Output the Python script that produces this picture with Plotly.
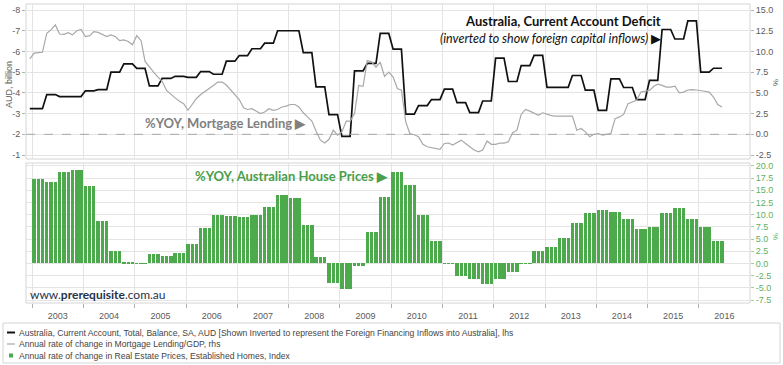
import pandas as pd
import plotly.graph_objects as go

# ---------------- data ----------------
# Current account balance (AUD bn, shown inverted), quarterly, 2002Q4 .. 2016Q2
ca_quarterly = [
    -3.24,
    -3.24, -3.92, -3.82, -3.82,
    -4.10, -4.16, -5.00, -5.40,
    -5.18, -4.34, -4.70, -4.80,
    -4.75, -5.03, -4.90, -5.53,
    -5.80, -6.13, -6.40, -7.00,
    -7.00, -5.94, -4.29, -2.95,
    -1.90, -5.06, -5.42, -6.87,
    -6.11, -2.98, -3.39, -3.68,
    -4.18, -3.53, -3.05, -3.61,
    -5.68, -4.55, -5.32, -5.81,
    -4.27, -4.27, -4.84, -4.13,
    -3.16, -4.68, -4.26, -3.68,
    -4.60, -7.06, -6.60, -7.48,
    -5.00, -5.19,
]
ca_start_quarter = "2002-10-01"

# Mortgage lending / GDP, annual % change, monthly Dec 2002 .. Jun 2016
mortgage_yoy = [
    9.1,
    9.8, 9.85, 9.9, 12.2, 12.6, 13.2, 12.1, 12.06, 12.26, 12.0, 12.5, 12.66,
    11.8, 11.9, 12.4, 12.3, 12.1, 11.8, 12.0, 11.8, 11.3, 11.4, 11.2, 10.8,
    11.9, 11.3, 8.8, 8.1, 7.5, 6.9, 6.4, 5.3, 4.8, 4.4, 4.0, 3.7,
    2.9, 3.6, 4.3, 4.8, 5.2, 5.5, 5.9, 6.3, 6.3, 5.95, 5.4, 4.8,
    4.2, 3.2, 3.0, 3.1, 2.8, 2.5, 2.7, 3.1, 2.9, 3.0, 3.3, 3.4,
    3.6, 3.6, 3.3, 2.6, 2.1, 1.6, 0.4, -0.7, -1.05, -0.6, 0.5, -0.1,
    0.3, 1.6, 1.6, 2.5, 5.9, 5.8, 8.9, 8.75, 8.1, 8.7, 7.0, 7.5,
    6.9, 5.5, 5.35, 1.5, 0.05, -0.05, -0.3, -1.2, -1.5, -1.6, -1.7, -1.8,
    -1.1, -1.05, -1.3, -1.0, -0.7, -1.1, -1.5, -1.9, -2.1, -1.9, -0.8, -1.2,
    -1.2, -1.05, -1.05, -0.9, 0.2, 0.5, 2.4, 3.0, 2.8, 2.6, 2.3, 2.6,
    2.4, 2.25, 2.2, 2.2, 2.2, 2.2, 2.2, 0.5, 0.7, 0.3, -0.3, 0.0,
    0.08, -0.1, 0.0, 0.1, 1.9, 2.1, 2.4, 3.7, 3.9, 4.1, 5.1, 5.24,
    5.3, 5.8, 6.05, 5.9, 5.7, 5.7, 5.8, 5.0, 5.1, 5.35, 5.4, 5.35,
    5.3, 5.2, 5.1, 4.5, 3.6, 3.3,
]
mortgage_start_month = "2002-12-01"

# Established house prices, annual % change, quarterly 2003Q1 .. 2016Q2
house_yoy_quarterly = [
    17.4, 16.8, 18.7, 19.2,
    15.8, 8.7, 2.6, 0.3,
    0.1, 1.9, 1.6, 2.2,
    3.9, 7.3, 10.0, 9.7,
    9.6, 10.0, 11.5, 14.0,
    13.5, 7.9, 1.4, -4.0,
    -5.3, -0.5, 6.4, 13.7,
    18.7, 16.1, 9.9, 4.7,
    -0.1, -2.5, -3.2, -4.3,
    -3.2, -1.8, -0.1, 2.6,
    3.4, 5.3, 8.2, 10.4,
    10.9, 10.6, 9.2, 7.0,
    7.5, 10.4, 11.3, 9.2,
    7.4, 4.7,
]
house_start_quarter = "2003-01-01"

left_ticks = [-8, -7, -6, -5, -4, -3, -2, -1]
right_top_ticks = [-2.5, 0.0, 2.5, 5.0, 7.5, 10.0, 12.5, 15.0]
right_bottom_ticks = [-7.5, -5.0, -2.5, 0.0, 2.5, 5.0, 7.5, 10.0, 12.5, 15.0, 17.5, 20.0]

legend_labels = [
    "Australia, Current Account, Total, Balance, SA, AUD [Shown Inverted to represent the Foreign Financing Inflows into Australia], lhs",
    "Annual rate of change in Mortgage Lending/GDP, rhs",
    "Annual rate of change in Real Estate Prices, Established Homes, Index",
]

# ---------------- build monthly series (mid-month) ----------------
def monthly_from_quarterly(start, values):
    qs = pd.date_range(start, periods=len(values), freq="QS")
    dates, vals = [], []
    for q, v in zip(qs, values):
        for m in range(3):
            d = (q + pd.DateOffset(months=m)) + pd.Timedelta(days=14)
            dates.append(d)
            vals.append(v)
    return dates, vals

ca_dates, ca_vals = monthly_from_quarterly(ca_start_quarter, ca_quarterly)
ca_pairs = [(d, v) for d, v in zip(ca_dates, ca_vals) if d >= pd.Timestamp("2002-12-01")]
ca_dates = [p[0] for p in ca_pairs]
ca_vals = [p[1] for p in ca_pairs]

mort_dates = pd.date_range(mortgage_start_month, periods=len(mortgage_yoy), freq="MS") + pd.Timedelta(days=14)

house_dates, house_vals = monthly_from_quarterly(house_start_quarter, house_yoy_quarterly)

# ---------------- styling ----------------
W, H = 783, 365
ML, MR, MT, MB = 26, 33, 4, 62
PW = W - ML - MR
PH = H - MT - MB


def px(x):
    return (x - ML) / PW


def py(y):
    return (H - MB - y) / PH


GRID = "#e4e4e4"
TICKC = "#5a5a5a"
GREEN = "#4caa4c"
TICKFONT = dict(family="Liberation Sans, Arial, sans-serif", size=9, color=TICKC)

top_dom = [py(159), 1.0]
bot_dom = [0.0, py(163)]

fig = go.Figure()

fig.add_trace(go.Bar(
    x=house_dates, y=house_vals, xaxis="x", yaxis="y3",
    marker=dict(color=GREEN, line=dict(width=0)),
    width=24 * 86400000, name=legend_labels[2], showlegend=False,
))
fig.add_trace(go.Scatter(
    x=mort_dates, y=mortgage_yoy, xaxis="x2", yaxis="y2", mode="lines",
    line=dict(color="#a8a8a8", width=1.2), name=legend_labels[1], showlegend=False,
))
fig.add_trace(go.Scatter(
    x=ca_dates, y=ca_vals, xaxis="x2", yaxis="y", mode="lines",
    line=dict(color="#111111", width=1.7), name=legend_labels[0], showlegend=False,
))

XR = ["2002-11-18", "2016-12-31"]

fig.update_layout(
    width=W, height=H,
    margin=dict(l=ML, r=MR, t=MT, b=MB, autoexpand=False),
    paper_bgcolor="white", plot_bgcolor="white",
    bargap=0,
    xaxis=dict(
        domain=[0, 1], anchor="y3", type="date", range=XR, automargin=False,
        tick0="2003-01-01", dtick="M12", tickformat="%Y", ticklabelmode="period",
        ticks="outside", ticklen=4, tickcolor="#b0b0b0",
        showgrid=True, gridcolor=GRID, gridwidth=1, zeroline=False, showline=False,
        tickfont=TICKFONT,
    ),
    xaxis2=dict(
        domain=[0, 1], anchor="y", type="date", matches="x", range=XR, automargin=False,
        tick0="2003-01-01", dtick="M12", showticklabels=False, ticks="",
        showgrid=True, gridcolor=GRID, zeroline=False, showline=False,
    ),
    yaxis=dict(
        domain=top_dom, anchor="x2", range=[-0.81, -8.29], automargin=False,
        tickvals=left_ticks, ticktext=[str(v) for v in left_ticks],
        ticks="outside", ticklen=3, tickcolor="#b0b0b0",
        showgrid=True, gridcolor=GRID, zeroline=False, showline=False,
        tickfont=TICKFONT,
    ),
    yaxis2=dict(
        overlaying="y", side="right", anchor="x2", range=[-2.975, 15.725], automargin=False,
        tickvals=right_top_ticks, ticktext=[f"{v:.1f}" for v in right_top_ticks],
        ticks="outside", ticklen=3, tickcolor="#b0b0b0",
        showgrid=False, zeroline=False, showline=False,
        tickfont=TICKFONT,
    ),
    yaxis3=dict(
        domain=bot_dom, anchor="x", side="right", range=[-8.1, 20.6], automargin=False,
        tickvals=right_bottom_ticks, ticktext=[f"{v:.1f}" for v in right_bottom_ticks],
        ticks="outside", ticklen=3, tickcolor="#9ccf9c",
        showgrid=True, gridcolor=GRID, zeroline=False, showline=False,
        tickfont=dict(family="Liberation Sans, Arial, sans-serif", size=9, color="#5fb05f"),
    ),
)

shapes = []
for (y0, y1) in [(top_dom[0], top_dom[1]), (bot_dom[0], bot_dom[1])]:
    shapes.append(dict(type="rect", xref="paper", yref="paper", x0=0, x1=1, y0=y0, y1=y1,
                       line=dict(color="#d4d4d4", width=1), layer="below"))
shapes.append(dict(type="line", xref="paper", yref="y2", x0=0, x1=1, y0=0, y1=0,
                   line=dict(color="#a8a8a8", width=1, dash="dash")))
shapes.append(dict(type="rect", xref="paper", yref="paper", x0=px(3), x1=px(780), y0=py(363), y1=py(323),
                   line=dict(color="#d4d4d4", width=1)))
shapes.append(dict(type="line", xref="paper", yref="paper", x0=px(7), x1=px(15), y0=py(332.5), y1=py(332.5),
                   line=dict(color="#111111", width=2)))
shapes.append(dict(type="line", xref="paper", yref="paper", x0=px(7), x1=px(15), y0=py(344), y1=py(344),
                   line=dict(color="#a8a8a8", width=1.2)))
shapes.append(dict(type="rect", xref="paper", yref="paper", x0=px(9), x1=px(13), y0=py(357.5), y1=py(353.5),
                   line=dict(width=0), fillcolor=GREEN))
fig.update_layout(shapes=shapes)

LEGFONT = dict(family="Liberation Sans, Arial, sans-serif", size=8.6, color="#444444")
CAL = "Lato, Open Sans, sans-serif"
annotations = [
    dict(text="<b>Australia, Current Account Deficit</b>", x=px(663), y=py(21), xanchor="right", yanchor="middle",
         font=dict(family=CAL, size=13, color="#111111")),
    dict(text="<i>(inverted to show foreign capital inflows) </i>▶", x=px(663), y=py(38), xanchor="right", yanchor="middle",
         font=dict(family=CAL, size=12.5, color="#111111")),
    dict(text="<b>%YOY, Mortgage Lending ▶</b>", x=px(143), y=py(123), xanchor="left", yanchor="middle",
         font=dict(family=CAL, size=13, color="#808080")),
    dict(text="<b>%YOY, Australian House Prices ▶</b>", x=px(193), y=py(176), xanchor="left", yanchor="middle",
         font=dict(family=CAL, size=13, color="#4a9e4a")),
    dict(text="www.<b>prerequisite</b>.com.au", x=px(28), y=py(294), xanchor="left", yanchor="middle",
         font=dict(family=CAL, size=12, color="#26324a")),
    dict(text="AUD, billion", x=px(9), y=py(85), xanchor="center", yanchor="middle", textangle=-90,
         font=dict(family="Liberation Sans, Arial, sans-serif", size=9, color=TICKC)),
    dict(text="%", x=px(776), y=py(82), xanchor="center", yanchor="middle", textangle=90,
         font=dict(family="Liberation Sans, Arial, sans-serif", size=8, color=TICKC)),
    dict(text="%", x=px(776), y=py(236), xanchor="center", yanchor="middle", textangle=90,
         font=dict(family="Liberation Sans, Arial, sans-serif", size=8, color="#5fb05f")),
]
for i, (lab, yy) in enumerate(zip(legend_labels, [332.5, 344, 355.5])):
    annotations.append(dict(text=lab, x=px(17), y=py(yy), xanchor="left", yanchor="middle",
                            font=LEGFONT))
for a in annotations:
    a.setdefault("xref", "paper")
    a.setdefault("yref", "paper")
    a.setdefault("showarrow", False)
fig.update_layout(annotations=annotations)

fig.write_html("out.html", config={"displayModeBar": False},
               post_script="document.body.style.margin='0';document.body.style.overflow='hidden';")
